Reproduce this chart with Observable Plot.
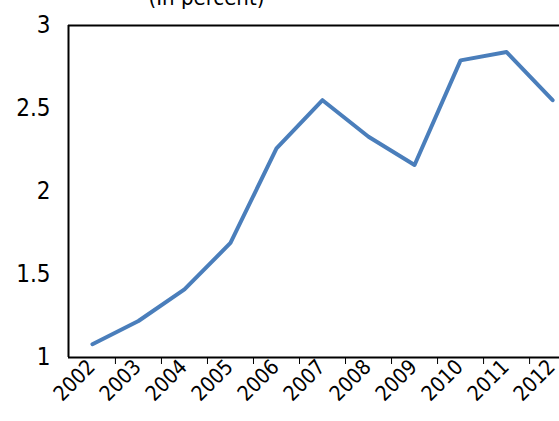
<!DOCTYPE html>
<html><head>
<script src="https://cdn.jsdelivr.net/npm/d3@7"></script>
<script src="https://cdn.jsdelivr.net/npm/@observablehq/plot@0.6"></script>
<style>body{margin:0;background:#fff} svg text{font-stretch:condensed}</style>
</head><body><div id="chart"></div>
<script>
const years = [2002, 2003, 2004, 2005, 2006, 2007, 2008, 2009, 2010, 2011, 2012];
const values = [1.08, 1.22, 1.41, 1.69, 2.26, 2.55, 2.33, 2.16, 2.79, 2.84, 2.55];
const yTicks = [1, 1.5, 2, 2.5, 3];
const data = years.map((y, i) => ({year: y, value: values[i]}));
const x0 = 2001.48, x1 = 2012.15;

const chart = Plot.plot({
  width: 559, height: 421,
  marginLeft: 68, marginTop: 25, marginBottom: 64, marginRight: 0,
  style: {fontFamily: "'Liberation Sans Narrow', 'DejaVu Sans Condensed', 'DejaVu Sans', sans-serif", fontSize: "22px", overflow: "visible"},
  x: {domain: [x0, x1]},
  y: {domain: [1, 3]},
  marks: [
    Plot.axisY({ticks: yTicks, tickSize: 0, tickPadding: 18, tickFormat: d => String(d), label: null, fontSize: 24, fill: "#000"}),
    Plot.axisX({ticks: years.slice(0, -1).map(y => y + 0.5), tickSize: 7, tickFormat: () => "", label: null, stroke: "#000"}),
    Plot.axisX({ticks: years, tickSize: 0, tickPadding: 6, tickRotate: -45, tickFormat: d => String(d), label: null, fontSize: 21, fill: "#000", dx: -1}),
    Plot.ruleX([x0], {stroke: "#000", strokeWidth: 2}),
    Plot.ruleY([3], {stroke: "#000", strokeWidth: 2}),
    Plot.ruleY([1], {stroke: "#000", strokeWidth: 2}),
    Plot.line(data, {x: "year", y: "value", stroke: "#4a7ebb", strokeWidth: 4}),
    Plot.text(["(In percent)"], {frameAnchor: "top-left", dx: 80, dy: -36, fontSize: 22, fill: "#000", textAnchor: "start"})
  ]
});
document.getElementById("chart").append(chart);
</script>
</body></html>
